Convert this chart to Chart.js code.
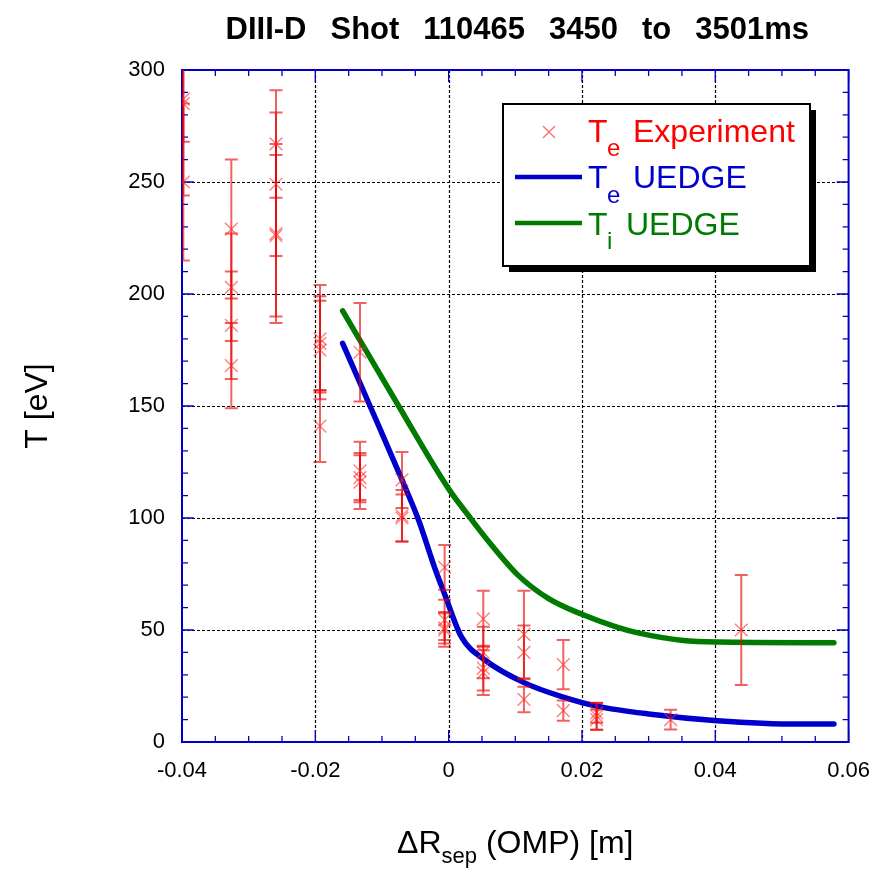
<!DOCTYPE html>
<html><head><meta charset="utf-8">
<script src="https://cdn.jsdelivr.net/npm/chart.js@4.4.1/dist/chart.umd.min.js"></script>
<style>html,body{margin:0;padding:0;background:#fff;}canvas{display:block;}</style>
</head><body>
<canvas id="c" width="886" height="869"></canvas>
<script>
const xTicks = [-0.04, -0.02, 0, 0.02, 0.04, 0.06];
const yTicks = [0, 50, 100, 150, 200, 250, 300];

// Experimental Te points (x [m], Te [eV], symmetric error [eV])
const expX = [
  -0.0398, -0.0398, -0.0398,
  -0.0326, -0.0326, -0.0326, -0.0326,
  -0.0259, -0.0259, -0.0259, -0.0259,
  -0.0193, -0.0193, -0.0193, -0.0193,
  -0.0133, -0.0133, -0.0133, -0.0133,
  -0.0070, -0.0070, -0.0070,
  -0.0006, -0.0006, -0.0006, -0.0006,
  0.0052, 0.0052, 0.0052, 0.0052,
  0.0113, 0.0113, 0.0113,
  0.0172, 0.0172,
  0.0222, 0.0222, 0.0222,
  0.0333,
  0.0439
];
const expY = [
  287, 285, 250,
  229, 203, 186, 168,
  267, 249, 226, 227,
  180, 178, 175, 141,
  174, 121, 118, 116,
  117, 101, 100,
  78, 54.5, 51, 50,
  55, 40, 33, 31,
  48, 40, 19,
  34.5, 14,
  13, 11.5, 10,
  10,
  50
];
const expErr = [
  43, 17, 35,
  31, 24, 24, 19,
  24, 32, 36, 40,
  24, 21, 22, 16,
  22, 13, 11, 12,
  12.5, 11.5, 10.5,
  10, 9, 7, 7.5,
  12.5, 11.5, 10, 10,
  19.5, 12, 5.7,
  11, 4.5,
  4.4, 6, 4.5,
  4.4,
  24.5
];

// UEDGE Te profile
const teX = [-0.0159, -0.0115, -0.0070, -0.0045, -0.0020, -0.0006, 0.0019, 0.0055, 0.0113, 0.0172, 0.0222, 0.0300, 0.0403, 0.0526, 0.0578];
const teY = [178, 148, 117, 99, 77, 66, 47, 36.5, 26.5, 20, 16, 12.5, 9.5, 8, 8];

// UEDGE Ti profile
const tiX = [-0.0159, -0.0075, 0.0000, 0.0030, 0.0060, 0.0104, 0.0150, 0.0200, 0.0250, 0.0284, 0.0352, 0.0403, 0.0578];
const tiY = [192.5, 150, 113, 101, 89.5, 74.5, 64, 57, 51.5, 48.7, 45.3, 44.6, 44.3];

const FONT = "'Liberation Sans', Arial, Helvetica, sans-serif";
const BLUE_AX = '#0000c8';

function fmt(v) {
  const r = Math.round(v * 1000) / 1000;
  return String(r);
}

const framePlugin = {
  id: 'frame',
  beforeDatasetsDraw(chart) {
    const { ctx, chartArea: a, scales: { x, y } } = chart;
    ctx.save();
    ctx.strokeStyle = '#000';
    ctx.lineWidth = 1.2;
    ctx.setLineDash([3, 2]);
    xTicks.forEach(v => {
      const px = Math.round(x.getPixelForValue(v)) + 0.5;
      if (px <= a.left + 1 || px >= a.right - 1) return;
      ctx.beginPath(); ctx.moveTo(px, a.top); ctx.lineTo(px, a.bottom); ctx.stroke();
    });
    yTicks.forEach(v => {
      const py = Math.round(y.getPixelForValue(v)) + 0.5;
      if (py <= a.top + 1 || py >= a.bottom - 1) return;
      ctx.beginPath(); ctx.moveTo(a.left, py); ctx.lineTo(a.right, py); ctx.stroke();
    });
    ctx.setLineDash([]);
    ctx.strokeStyle = BLUE_AX;
    ctx.lineWidth = 2;
    ctx.strokeRect(a.left, a.top, a.right - a.left, a.bottom - a.top);
    ctx.lineWidth = 1.3;
    for (let i = 0; i <= 20; i++) {
      const v = -0.04 + i * 0.005;
      const px = x.getPixelForValue(v);
      const len = (i % 4 === 0) ? 12 : 6;
      ctx.beginPath();
      ctx.moveTo(px, a.bottom); ctx.lineTo(px, a.bottom - len);
      ctx.moveTo(px, a.top); ctx.lineTo(px, a.top + len);
      ctx.stroke();
    }
    for (let i = 0; i <= 30; i++) {
      const v = i * 10;
      const py = y.getPixelForValue(v);
      const len = (i % 5 === 0) ? 12 : 6;
      ctx.beginPath();
      ctx.moveTo(a.left, py); ctx.lineTo(a.left + len, py);
      ctx.moveTo(a.right, py); ctx.lineTo(a.right - len, py);
      ctx.stroke();
    }
    ctx.restore();
  }
};

const errorBarPlugin = {
  id: 'errbars',
  beforeDatasetDraw(chart, args) {
    if (args.index !== 0) return;
    const { ctx, chartArea: a, scales: { x, y } } = chart;
    ctx.save();
    ctx.beginPath();
    ctx.rect(a.left, a.top, a.right - a.left, a.bottom - a.top);
    ctx.clip();
    ctx.strokeStyle = 'rgba(230,0,0,0.62)';
    ctx.lineWidth = 2;
    for (let i = 0; i < expX.length; i++) {
      const px = x.getPixelForValue(expX[i]);
      const pLo = y.getPixelForValue(expY[i] - expErr[i]);
      const pHi = y.getPixelForValue(expY[i] + expErr[i]);
      ctx.beginPath();
      ctx.moveTo(px, pLo); ctx.lineTo(px, pHi);
      ctx.moveTo(px - 6.5, pLo); ctx.lineTo(px + 6.5, pLo);
      ctx.moveTo(px - 6.5, pHi); ctx.lineTo(px + 6.5, pHi);
      ctx.stroke();
    }
    ctx.restore();
  }
};

const textPlugin = {
  id: 'texts',
  afterDraw(chart) {
    const { ctx, chartArea: a } = chart;
    ctx.save();
    const words = ['DIII-D', 'Shot', '110465', '3450', 'to', '3501ms'];
    ctx.font = 'bold 31px ' + FONT;
    ctx.fillStyle = '#000';
    ctx.textBaseline = 'alphabetic';
    ctx.textAlign = 'left';
    const gap = 24;
    const widths = words.map(w => ctx.measureText(w).width);
    const total = widths.reduce((s, w) => s + w, 0) + gap * (words.length - 1);
    let tx = (a.left + a.right) / 2 - total / 2 + 2;
    words.forEach((w, i) => { ctx.fillText(w, tx, 39); tx += widths[i] + gap; });

    ctx.save();
    ctx.translate(47, 406);
    ctx.rotate(-Math.PI / 2);
    ctx.font = '32px ' + FONT;
    ctx.textAlign = 'center';
    ctx.fillText('T [eV]', 0, 0);
    ctx.restore();

    const big = '32px ' + FONT, small = '22px ' + FONT;
    ctx.font = big; const w1 = ctx.measureText('\u0394R').width;
    ctx.font = small; const w2 = ctx.measureText('sep').width;
    ctx.font = big; const w3 = ctx.measureText(' (OMP) [m]').width;
    let xx = (a.left + a.right) / 2 - (w1 + w2 + w3) / 2;
    ctx.textAlign = 'left';
    ctx.font = big; ctx.fillText('\u0394R', xx, 853); xx += w1;
    ctx.font = small; ctx.fillText('sep', xx, 863); xx += w2;
    ctx.font = big; ctx.fillText(' (OMP) [m]', xx, 853);

    const L = 503, T = 104, R = 810, B = 266;
    ctx.fillStyle = '#000';
    ctx.fillRect(L + 6, T + 6, R - L, B - T);
    ctx.fillStyle = '#fff';
    ctx.fillRect(L, T, R - L, B - T);
    ctx.strokeStyle = '#000';
    ctx.lineWidth = 2;
    ctx.strokeRect(L, T, R - L, B - T);

    ctx.strokeStyle = 'rgba(255,40,40,0.7)';
    ctx.lineWidth = 1.3;
    ctx.beginPath();
    ctx.moveTo(543, 126); ctx.lineTo(555, 138);
    ctx.moveTo(555, 126); ctx.lineTo(543, 138);
    ctx.stroke();
    ctx.lineWidth = 4.5;
    ctx.strokeStyle = '#0000cc';
    ctx.beginPath(); ctx.moveTo(515, 177); ctx.lineTo(582, 177); ctx.stroke();
    ctx.strokeStyle = '#007a00';
    ctx.beginPath(); ctx.moveTo(515, 223); ctx.lineTo(582, 223); ctx.stroke();

    const rows = [
      { c: '#ff0000', sub: 'e', rest: 'Experiment', by: 142, sy: 156, rx: 633 },
      { c: '#0000cc', sub: 'e', rest: 'UEDGE', by: 188, sy: 203, rx: 633 },
      { c: '#007a00', sub: 'i', rest: 'UEDGE', by: 235, sy: 249, rx: 626 }
    ];
    rows.forEach(r => {
      ctx.fillStyle = r.c;
      ctx.font = big; ctx.fillText('T', 588, r.by);
      ctx.font = '24px ' + FONT; ctx.fillText(r.sub, 607, r.sy);
      ctx.font = big; ctx.fillText(r.rest, r.rx, r.by);
    });
    ctx.restore();
  }
};

new Chart(document.getElementById('c'), {
  data: {
    datasets: [
      {
        type: 'scatter',
        label: 'Te Experiment',
        data: expX.map((v, i) => ({ x: v, y: expY[i] })),
        pointStyle: 'crossRot',
        pointRadius: 9,
        pointBorderWidth: 1.4,
        borderColor: 'rgba(255,40,40,0.6)',
        backgroundColor: 'rgba(255,40,40,0.6)',
        order: 0
      },
      {
        type: 'line',
        label: 'Te UEDGE',
        data: teX.map((v, i) => ({ x: v, y: teY[i] })),
        borderColor: '#0000cc',
        borderWidth: 5.5,
        pointRadius: 0,
        cubicInterpolationMode: 'monotone',
        fill: false,
        borderCapStyle: 'round',
        borderJoinStyle: 'round',
        order: 1
      },
      {
        type: 'line',
        label: 'Ti UEDGE',
        data: tiX.map((v, i) => ({ x: v, y: tiY[i] })),
        borderColor: '#007a00',
        borderWidth: 5.5,
        pointRadius: 0,
        cubicInterpolationMode: 'monotone',
        fill: false,
        borderCapStyle: 'round',
        borderJoinStyle: 'round',
        order: 2
      }
    ]
  },
  options: {
    responsive: false,
    animation: false,
    devicePixelRatio: 1,
    layout: { padding: { top: 70, right: 33, left: 0, bottom: 0 } },
    plugins: { legend: { display: false }, tooltip: { enabled: false }, title: { display: false } },
    scales: {
      x: {
        type: 'linear',
        min: -0.04, max: 0.06,
        afterBuildTicks: s => { s.ticks = xTicks.map(v => ({ value: v })); },
        afterFit: s => { s.height = 127; },
        grid: { display: false, drawTicks: false },
        border: { display: false },
        ticks: { padding: 16, color: '#000', font: { family: FONT, size: 22 }, callback: v => fmt(v), maxRotation: 0, autoSkip: false }
      },
      y: {
        type: 'linear',
        min: 0, max: 300,
        afterBuildTicks: s => { s.ticks = yTicks.map(v => ({ value: v })); },
        afterFit: s => { s.width = 182; },
        grid: { display: false, drawTicks: false },
        border: { display: false },
        ticks: { padding: 17, color: '#000', font: { family: FONT, size: 22 }, callback: v => fmt(v), autoSkip: false }
      }
    }
  },
  plugins: [framePlugin, errorBarPlugin, textPlugin]
});
</script>
</body></html>
